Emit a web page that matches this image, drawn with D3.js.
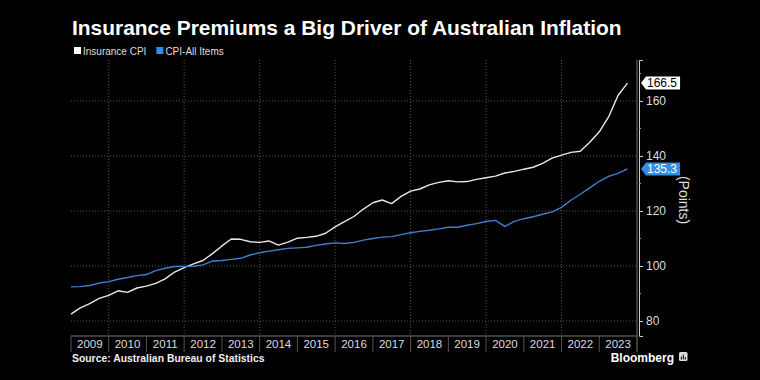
<!DOCTYPE html>
<html lang="en">
<head>
<meta charset="UTF-8">
<title>Insurance Premiums a Big Driver of Australian Inflation</title>
<script src="https://d3js.org/d3.v7.min.js"></script>
<style>
  html, body { margin: 0; padding: 0; background: #000; }
  svg { display: block; font-family: "Liberation Sans", Arial, sans-serif; }
</style>
</head>
<body>
<script>
// quarterly data, Dec 2008 .. Sep 2023
const quarters = [
  "2008-12","2009-03","2009-06","2009-09","2009-12","2010-03","2010-06","2010-09","2010-12",
  "2011-03","2011-06","2011-09","2011-12","2012-03","2012-06","2012-09","2012-12",
  "2013-03","2013-06","2013-09","2013-12","2014-03","2014-06","2014-09","2014-12",
  "2015-03","2015-06","2015-09","2015-12","2016-03","2016-06","2016-09","2016-12",
  "2017-03","2017-06","2017-09","2017-12","2018-03","2018-06","2018-09","2018-12",
  "2019-03","2019-06","2019-09","2019-12","2020-03","2020-06","2020-09","2020-12",
  "2021-03","2021-06","2021-09","2021-12","2022-03","2022-06","2022-09","2022-12",
  "2023-03","2023-06","2023-09"
];
const insuranceCpi = [
  82.5, 84.8, 86.3, 88.2, 89.3, 91.0, 90.4, 92.0, 92.7,
  93.7, 95.3, 97.8, 99.4, 100.8, 102.0, 104.5, 107.3,
  109.8, 109.7, 108.8, 108.6, 109.1, 107.6, 108.7, 110.1,
  110.4, 110.8, 111.9, 114.2, 116.1, 118.0, 120.7, 123.0,
  124.0, 122.7, 125.3, 127.2, 128.0, 129.5, 130.4, 131.0,
  130.6, 130.7, 131.5, 132.1, 132.7, 133.8, 134.4, 135.2,
  135.9, 137.3, 139.2, 140.3, 141.3, 141.7, 145.0, 148.8,
  154.2, 162.0, 166.5
];
const cpiAllItems = [
  92.4, 92.5, 92.9, 93.8, 94.3, 95.2, 95.8, 96.5, 96.9,
  98.3, 99.2, 99.8, 99.8, 99.9, 100.4, 101.8, 102.0,
  102.4, 102.8, 104.0, 104.8, 105.4, 105.9, 106.4, 106.6,
  106.8, 107.5, 108.0, 108.4, 108.2, 108.6, 109.4, 110.0,
  110.5, 110.7, 111.4, 112.1, 112.6, 113.0, 113.5, 114.1,
  114.1, 114.8, 115.4, 116.2, 116.6, 114.4, 116.2, 117.2,
  117.9, 118.8, 119.7, 121.3, 123.9, 126.1, 128.4, 130.8,
  132.6, 133.7, 135.3
];
const seriesNames = ["Insurance CPI", "CPI-All Items"];
const seriesColors = ["#e8e8e8", "#3f7fd0"];
const tagColors = ["#ffffff", "#2f8ee8"];
const yTicks = [80, 100, 120, 140, 160];
const yMinorTicks = [90, 110, 130, 150, 170];
const years = d3.range(2009, 2024);

const W = 760, H = 380;
const plot = {left: 71, right: 637, top: 60, bottom: 336};

const svg = d3.select("body").append("svg")
  .attr("width", W).attr("height", H);
svg.append("rect").attr("width", W).attr("height", H).attr("fill", "#000");

const parseQ = d3.timeParse("%Y-%m");
// place each quarter at the end of its last month
const dates = quarters.map(q => d3.timeMonth.offset(parseQ(q), 1));

const x = d3.scaleTime()
  .domain([new Date(2009, 0, 1), new Date(2024, 0, 1)])
  .range([plot.left, plot.right]);
const y = d3.scaleLinear()
  .domain([74.55, 174.9])
  .range([plot.bottom, plot.top]);

// title + legend
const title = svg.append("text")
  .attr("x", 72).attr("y", 35)
  .attr("fill", "#fff")
  .attr("font-size", 20).attr("font-weight", "bold")
  .text("Insurance Premiums a Big Driver of Australian Inflation");
// fit the title to the width it has in the original (~550px)
const tw = title.node().getComputedTextLength();
title.attr("font-size", 20 * 550 / tw);

const legend = svg.append("g").attr("transform", "translate(74,51)");
let lx = 0;
seriesNames.forEach((name, i) => {
  legend.append("rect")
    .attr("x", lx).attr("y", -4).attr("width", 7).attr("height", 7)
    .attr("fill", i === 0 ? "#fff" : "#2f8ee8");
  const t = legend.append("text")
    .attr("x", lx + 9).attr("y", 3.5)
    .attr("fill", "#ddd").attr("font-size", 10)
    .text(name);
  lx += 9 + t.node().getComputedTextLength() + 10;
});

// gridlines
const grid = svg.append("g").attr("stroke", "#555").attr("stroke-dasharray", "1,2");
grid.selectAll("line.h").data(yTicks).join("line")
  .attr("x1", plot.left).attr("x2", plot.right)
  .attr("y1", d => y(d)).attr("y2", d => y(d));
grid.selectAll("line.v").data(d3.range(2010, 2024, 2)).join("line")
  .attr("x1", d => x(new Date(d, 0, 1))).attr("x2", d => x(new Date(d, 0, 1)))
  .attr("y1", plot.top).attr("y2", plot.bottom);

// plot frame (bottom + right)
svg.append("path")
  .attr("d", `M${plot.left},${plot.bottom}H${plot.right}V${plot.top}`)
  .attr("fill", "none").attr("stroke", "#777").attr("stroke-width", 1);

// lines
const line = d3.line().x((d, i) => x(dates[i])).y(d => y(d));
[insuranceCpi, cpiAllItems].forEach((vals, i) => {
  svg.append("path")
    .datum(vals)
    .attr("d", line)
    .attr("fill", "none")
    .attr("stroke", seriesColors[i])
    .attr("stroke-width", 1.4)
    .attr("stroke-linejoin", "round");
});

// right axis
const yAxis = svg.append("g")
  .attr("transform", `translate(${plot.right + 2},0)`)
  .call(d3.axisRight(y).tickValues(yTicks).tickSize(4).tickPadding(3));
yAxis.attr("font-family", null);
yAxis.select(".domain").attr("stroke", "#ccc");
yAxis.selectAll(".tick line").attr("stroke", "#ccc");
yAxis.selectAll(".tick text")
  .attr("fill", "#ddd").attr("font-size", 12);
svg.append("g")
  .selectAll("line").data(yMinorTicks.filter(d => y(d) > plot.top)).join("line")
  .attr("x1", plot.right + 2).attr("x2", plot.right + 4)
  .attr("y1", d => y(d)).attr("y2", d => y(d))
  .attr("stroke", "#999");

svg.append("text")
  .attr("transform", "translate(679,200) rotate(90)")
  .attr("text-anchor", "middle")
  .attr("fill", "#ddd").attr("font-size", 14)
  .text("(Points)");

// last-value tags
[insuranceCpi, cpiAllItems].forEach((vals, i) => {
  const v = vals[vals.length - 1];
  const cy = y(v);
  const g = svg.append("g").attr("transform", `translate(${plot.right + 4},${cy})`);
  const t = g.append("text")
    .attr("x", 6).attr("y", 4.3)
    .attr("fill", i === 0 ? "#000" : "#fff")
    .attr("font-size", 12)
    .text(v.toFixed(1));
  const w = t.node().getComputedTextLength();
  g.insert("path", "text")
    .attr("d", `M0,0L5,-6.5H${w + 9}V6.5H5Z`)
    .attr("fill", tagColors[i]);
});

// bottom year labels with separators
const xAxis = svg.append("g").attr("transform", `translate(0,${plot.bottom})`);
xAxis.selectAll("line").data(years.concat([2024])).join("line")
  .attr("x1", d => x(new Date(d, 0, 1))).attr("x2", d => x(new Date(d, 0, 1)))
  .attr("y1", 0).attr("y2", 16)
  .attr("stroke", d => d === 2024 ? "#777" : "#555");
xAxis.selectAll("text").data(years).join("text")
  .attr("x", d => x(new Date(d, 6, 2)))
  .attr("y", 11.8)
  .attr("text-anchor", "middle")
  .attr("fill", "#ddd").attr("font-size", 11.5)
  .text(d => d);

// source + logo
svg.append("text")
  .attr("x", 72).attr("y", 362)
  .attr("fill", "#eee").attr("font-size", 10.4).attr("font-weight", "bold")
  .text("Source: Australian Bureau of Statistics");

svg.append("text")
  .attr("x", 674).attr("y", 361.5)
  .attr("text-anchor", "end")
  .attr("fill", "#fff").attr("font-size", 12).attr("font-weight", "bold")
  .text("Bloomberg");
const logo = svg.append("g").attr("transform", "translate(679,352)");
logo.append("rect").attr("width", 8.5).attr("height", 9).attr("rx", 1.5).attr("fill", "#ddd");
logo.selectAll("line").data([[2.3, 4.5], [4.3, 2.5], [6.3, 5]]).join("line")
  .attr("x1", d => d[0]).attr("x2", d => d[0])
  .attr("y1", d => d[1]).attr("y2", 7.5)
  .attr("stroke", "#000").attr("stroke-width", 1);
</script>
</body>
</html>
